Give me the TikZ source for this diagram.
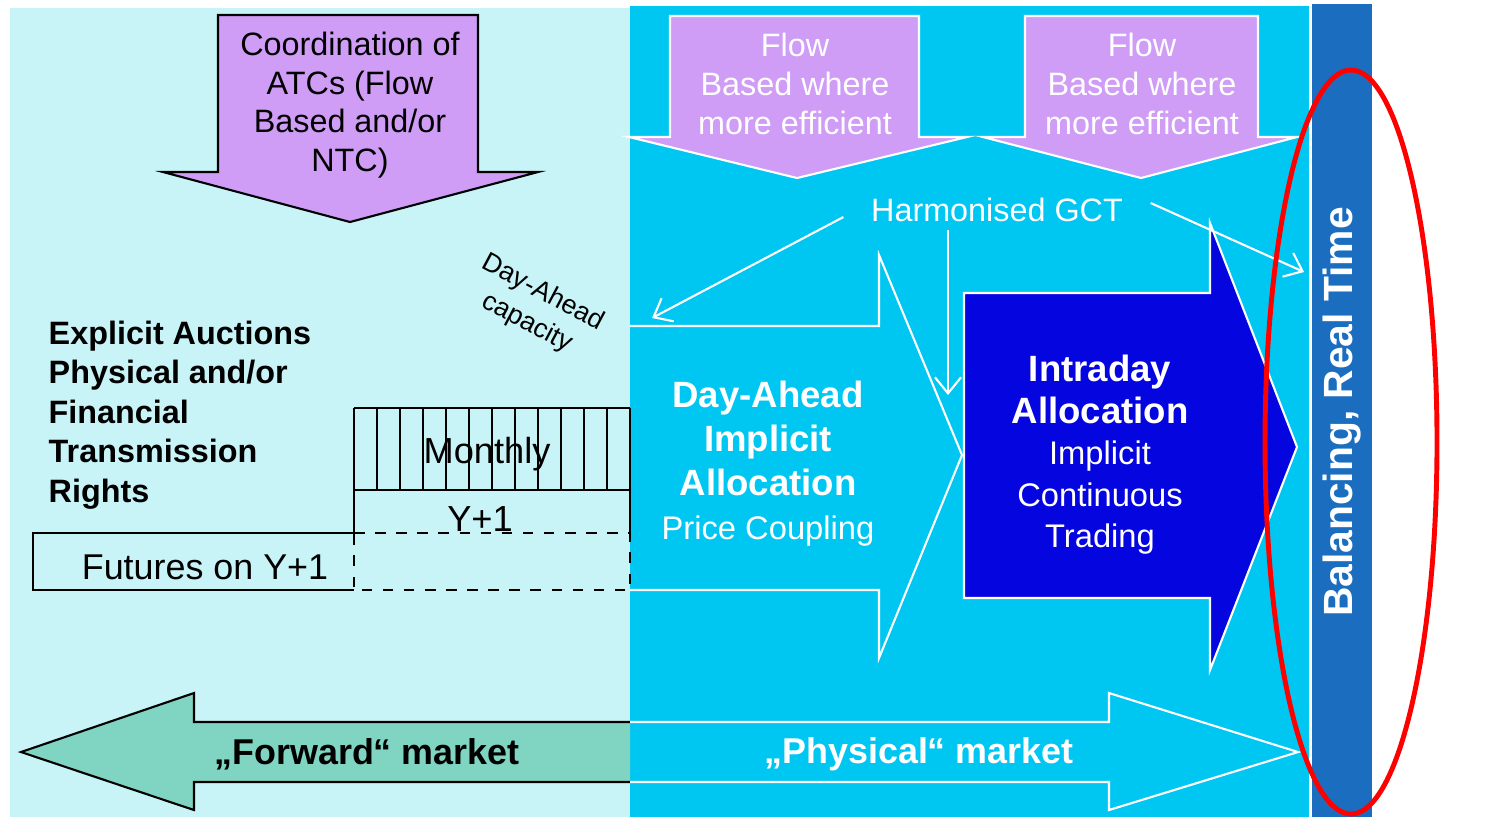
\documentclass[tikz,border=0pt]{standalone}
\usepackage{fontspec}
\setmainfont{Liberation Sans}
\usepackage{xcolor}
\definecolor{fwdcyan}{HTML}{C8F4F7}
\definecolor{physcyan}{HTML}{00C6F2}
\definecolor{rtblue}{HTML}{1B6EBF}
\definecolor{idblue}{HTML}{0505E0}
\definecolor{atclilac}{HTML}{CF9CF6}
\definecolor{fwdgreen}{HTML}{80D5C2}
\usetikzlibrary{arrows.meta, positioning}

\begin{document}
\begin{tikzpicture}[x=0.01cm, y=-0.01cm,
  txt/.style={align=center, inner sep=0pt, font=\fontsize{9.2}{11}\selectfont},
  big/.style={align=center, inner sep=0pt, font=\fontsize{10.4}{12.5}\selectfont},
  fatarrow/.style={line width=0.6pt, line join=miter},
  cell/.style={draw=black, line width=0.5pt},
  gctline/.style={draw=white, line width=0.6pt, -{Straight Barb[length=1.6mm, width=2.6mm]}}
]
\useasboundingbox (0,0) rectangle (1486,817);

% market zones
\fill[fwdcyan] (10,8) rectangle (630,817);
\fill[physcyan] (630,6) rectangle (1310,817);
\draw[white, line width=0.6pt] (1310,6) -- (1310,817);
\fill[rtblue] (1312,4) rectangle (1372,817);

% capacity calculation arrows
\draw[fatarrow, fill=atclilac, draw=black] (218,15) -- (478,15) -- (478,172) -- (538,172)
  -- (350,222) -- (163,172) -- (218,172) -- cycle;
\draw[fatarrow, fill=atclilac, draw=white] (670,16) -- (919,16) -- (919,137) -- (967,137)
  -- (797,178) -- (629,137) -- (670,137) -- cycle;
\draw[fatarrow, fill=atclilac, draw=white] (1025,16) -- (1258,16) -- (1258,137) -- (1297,137)
  -- (1141,178) -- (983,137) -- (1025,137) -- cycle;

\node[txt] (coord) at (350,105) {Coordination of\\ATCs (Flow\\Based and/or\\NTC)};
\node[txt, text=white] (flowA) at (795,84) {Flow\\Based where\\more efficient};
\node[txt, text=white] (flowB) at (1142,84) {Flow\\Based where\\more efficient};

% explicit auctions
\node[txt, font=\fontsize{9.2}{11.2}\selectfont\bfseries, align=left, anchor=west] (explicit)
  at (48,415) {Explicit Auctions\\Physical and/or\\Financial\\Transmission\\Rights};

\foreach \x in {354,377,...,630}
  \draw[cell] (\x,408) -- (\x,490);
\draw[cell] (354,408) -- (630,408);
\draw[cell] (354,490) -- (630,490) -- (630,533);
\draw[cell] (354,490) -- (354,533);
\draw[cell] (354,533) -- (33,533) -- (33,590) -- (354,590);
\draw[cell, dashed] (354,533) -- (630,533) -- (630,590) -- (354,590) -- cycle;

\node[txt, font=\fontsize{10.3}{12}\selectfont] (monthly) at (487,454) {Monthly};
\node[txt, font=\fontsize{10.3}{12}\selectfont] (yplus) at (480,519) {Y+1};
\node[txt, font=\fontsize{10.2}{12}\selectfont] (futures) at (205,567) {Futures on Y+1};

\node[txt, font=\fontsize{7.6}{9.6}\selectfont, rotate=-28] (dacapacity) at (535,308) {Day-Ahead\\capacity};

% day-ahead and intraday
\draw[fatarrow, draw=white] (630,326) -- (879,326) -- (879,255) -- (962,455)
  -- (879,658) -- (879,590) -- (630,590);
\draw[fatarrow, fill=idblue, draw=white] (964,293) -- (1210,293) -- (1210,223) -- (1297,447)
  -- (1210,670) -- (1210,598) -- (964,598) -- cycle;

\node[big, text=white] (dalabel) at (768,464)
  {\textbf{Day-Ahead}\\\textbf{Implicit}\\\textbf{Allocation}\\{\fontsize{9.3}{12.5}\selectfont Price Coupling}};
\node[big, text=white, font=\fontsize{10.4}{11.8}\selectfont] (idlabel) at (1100,455)
  {\textbf{Intraday}\\\textbf{Allocation}\\{\fontsize{9.3}{11.8}\selectfont Implicit}\\{\fontsize{9.3}{11.8}\selectfont Continuous}\\{\fontsize{9.3}{11.8}\selectfont Trading}};

% gate closure
\node[txt, text=white, inner xsep=7.7pt, inner ysep=2pt] (gct) at (997,210) {Harmonised GCT};
\coordinate (dacap) at (652,318);
\coordinate (idtop) at (948,395);
\coordinate (rttop) at (1304,272);
\draw[gctline] ([yshift=-2pt]gct.west) -- (dacap);
\draw[gctline] (gct.south -| idtop) -- (idtop);
\draw[gctline] ([yshift=2pt]gct.east) -- (rttop);

\node[txt, text=white, font=\fontsize{11.6}{13}\selectfont\bfseries, rotate=90] (rtlabel) at (1342,412) {Balancing, Real Time};

% forward vs physical
\draw[fatarrow, fill=fwdgreen, draw=black] (630,722) -- (194,722) -- (194,693) -- (21,752)
  -- (194,810) -- (194,782) -- (630,782);
\draw[fatarrow, draw=white] (630,722) -- (1109,722) -- (1109,693) -- (1298,752)
  -- (1109,810) -- (1109,782) -- (630,782);
\node[txt, font=\fontsize{10.2}{12}\selectfont\bfseries] (fwdlabel) at (367,754) {„Forward“ market};
\node[txt, text=white, font=\fontsize{10.2}{12}\selectfont\bfseries] (physlabel) at (919,754) {„Physical“ market};

\draw[red, line width=1.4pt] (1351,442) ellipse [x radius=86, y radius=372];
\end{tikzpicture}
\end{document}
